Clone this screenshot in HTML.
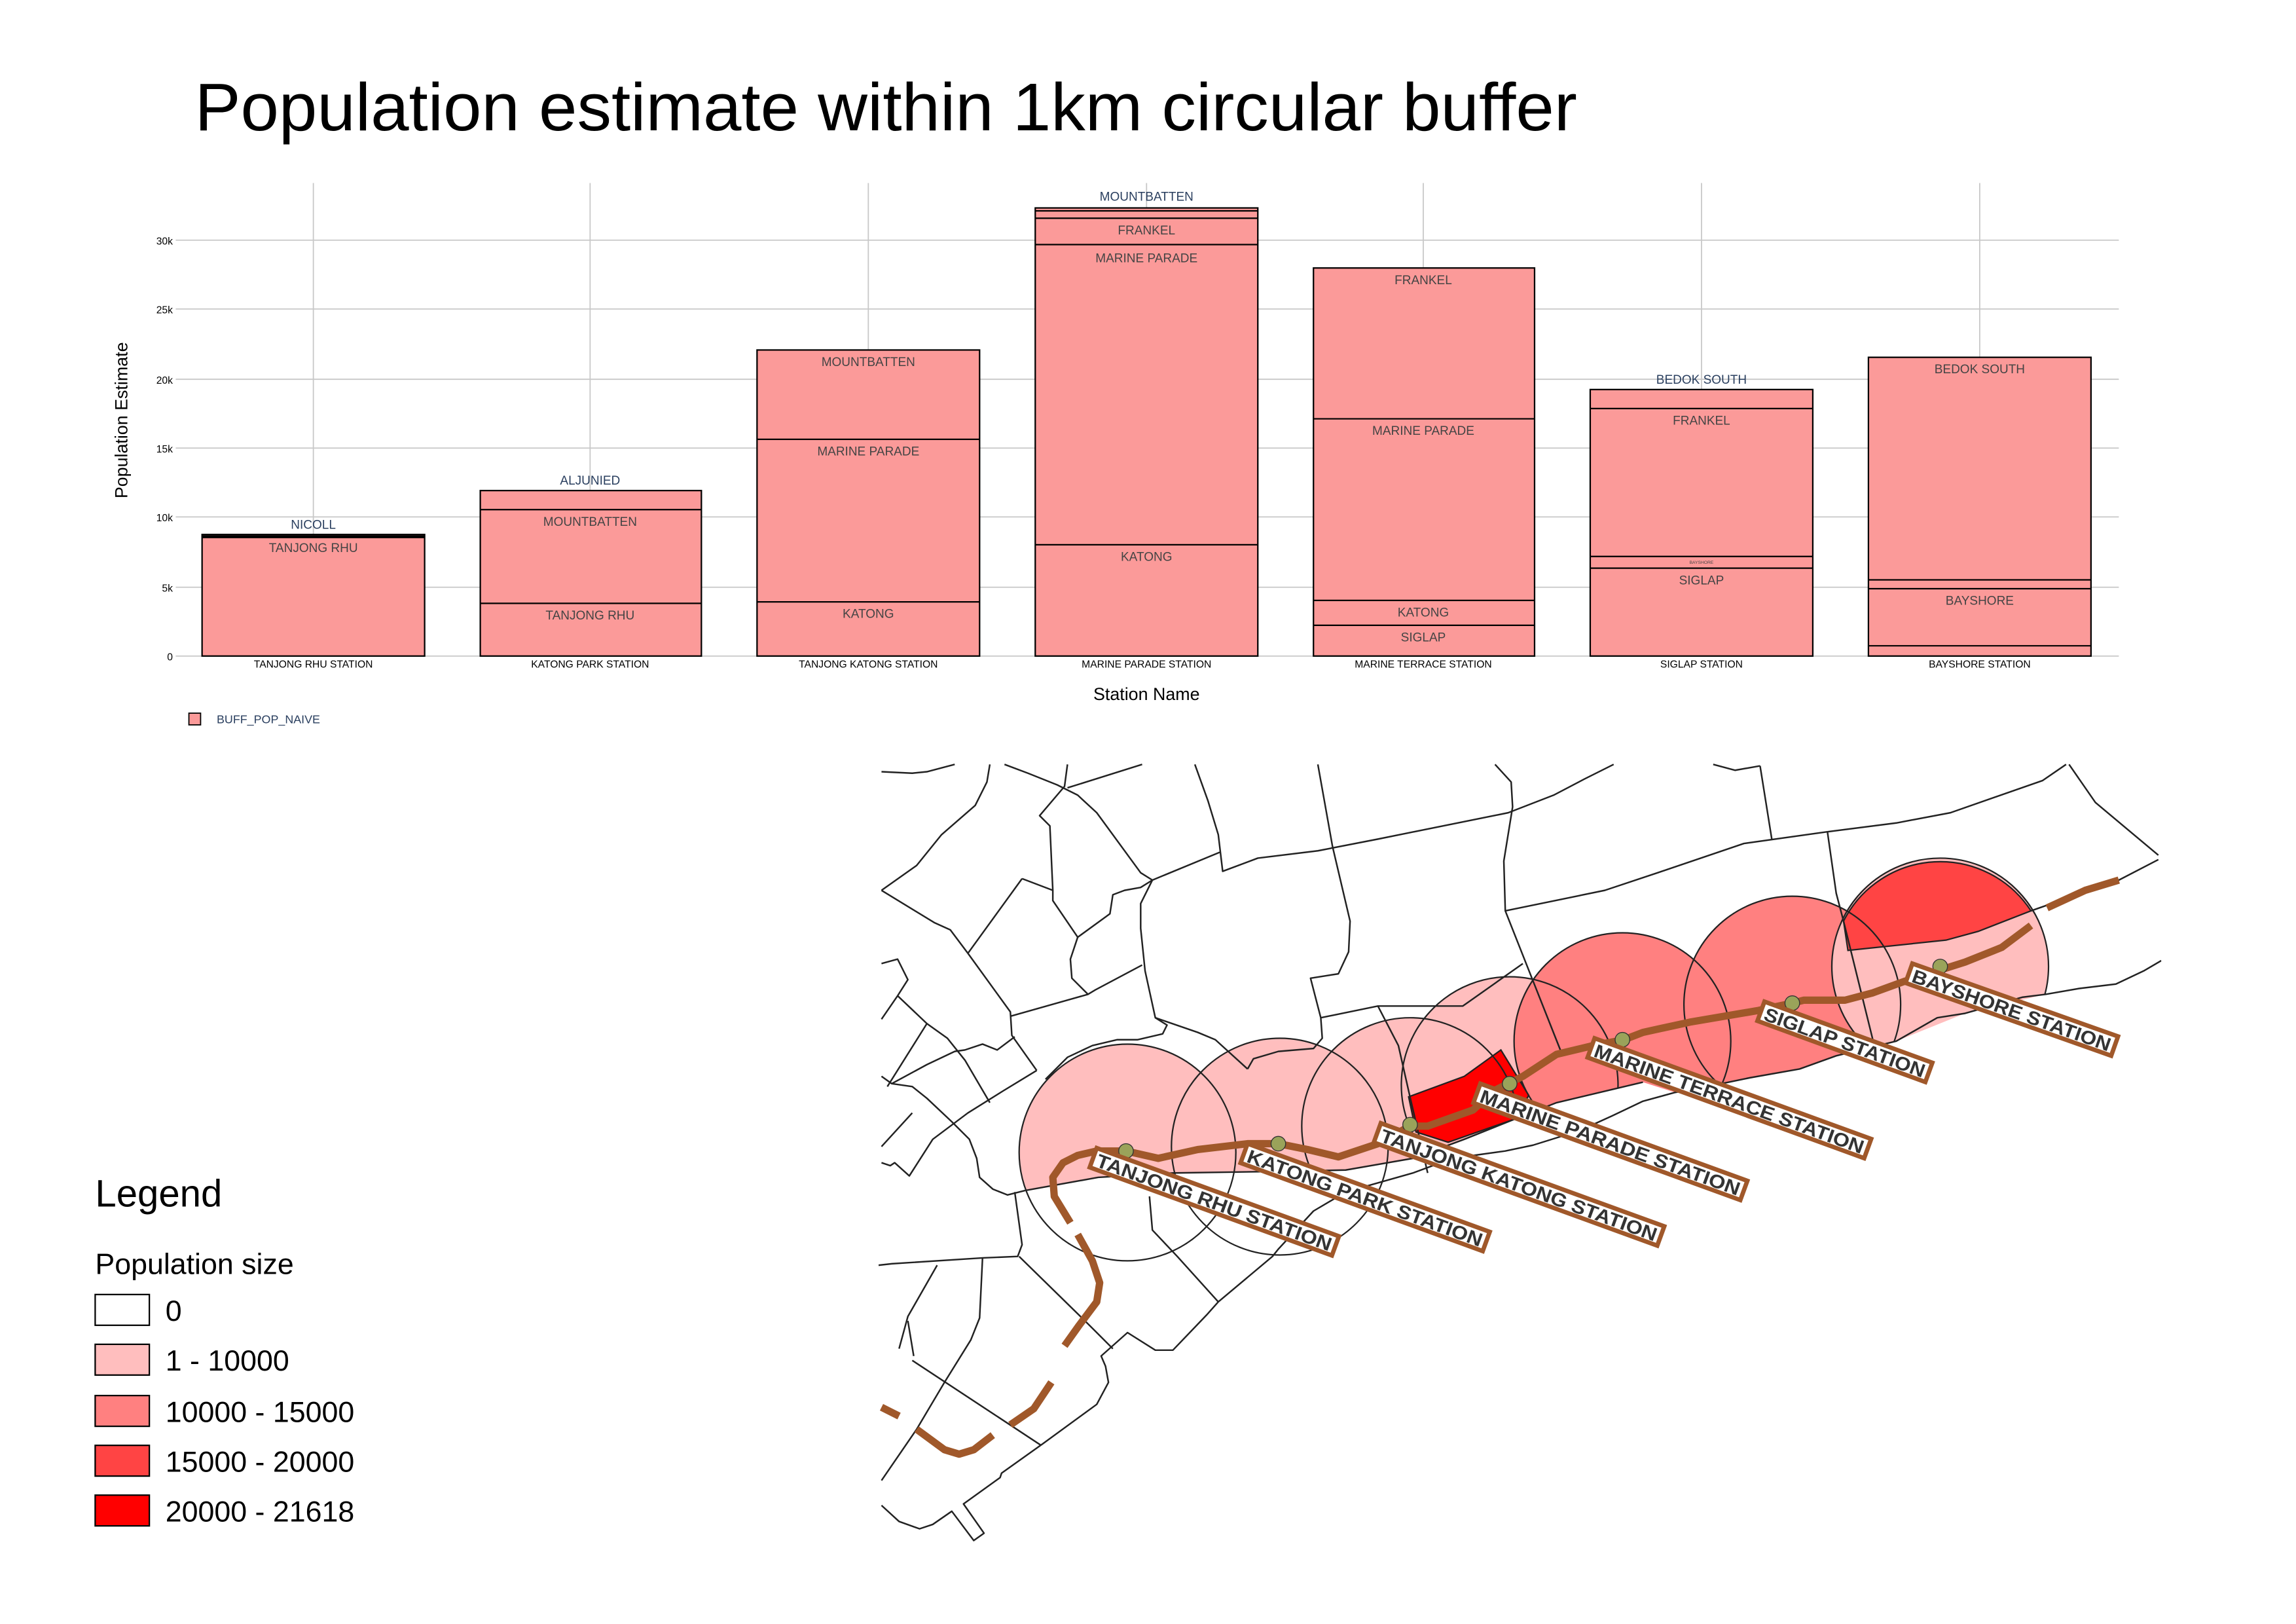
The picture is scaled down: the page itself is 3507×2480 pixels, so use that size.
<!DOCTYPE html>
<html><head><meta charset="utf-8"><style>
html,body{margin:0;padding:0;background:#fff}
svg{display:block}
</style></head><body>
<svg width="3507" height="2480" viewBox="0 0 1568 1109" preserveAspectRatio="none" xmlns="http://www.w3.org/2000/svg" font-family="Liberation Sans, sans-serif">
<rect width="1568" height="1109" fill="#fff"/>
<text x="133" y="89" font-size="46" fill="#000" textLength="944" lengthAdjust="spacingAndGlyphs">Population estimate within 1km circular buffer</text>

<!-- grid -->
<g stroke="#c8c8c8" stroke-width="0.8">
<line x1="120" y1="448" x2="1447" y2="448"/>
<line x1="120" y1="401" x2="1447" y2="401"/>
<line x1="120" y1="353" x2="1447" y2="353"/>
<line x1="120" y1="306" x2="1447" y2="306"/>
<line x1="120" y1="259" x2="1447" y2="259"/>
<line x1="120" y1="211" x2="1447" y2="211"/>
<line x1="120" y1="164" x2="1447" y2="164"/>
<line x1="214" y1="125" x2="214" y2="448"/>
<line x1="403" y1="125" x2="403" y2="448"/>
<line x1="593" y1="125" x2="593" y2="448"/>
<line x1="783" y1="125" x2="783" y2="448"/>
<line x1="972" y1="125" x2="972" y2="448"/>
<line x1="1162" y1="125" x2="1162" y2="448"/>
<line x1="1352" y1="125" x2="1352" y2="448"/>
</g>
<g font-size="7" fill="#000" text-anchor="end">
<text x="118" y="451">0</text><text x="118" y="404">5k</text><text x="118" y="356">10k</text>
<text x="118" y="309">15k</text><text x="118" y="262">20k</text><text x="118" y="214">25k</text><text x="118" y="167">30k</text>
</g>
<text transform="translate(87,287) rotate(-90)" font-size="12" text-anchor="middle">Population Estimate</text>
<text x="783" y="478" font-size="12" text-anchor="middle">Station Name</text>

<!-- bars -->
<g fill="#fb9a99" stroke="#000" stroke-width="1">
<rect x="138" y="365" width="152" height="83"/>
<rect x="328" y="335" width="151" height="113"/>
<rect x="517" y="239" width="152" height="209"/>
<rect x="707" y="142" width="152" height="306"/>
<rect x="897" y="183" width="151" height="265"/>
<rect x="1086" y="266" width="152" height="182"/>
<rect x="1276" y="244" width="152" height="204"/>
</g>
<g stroke="#000" stroke-width="1">
<line x1="138" y1="366.5" x2="290" y2="366.5" stroke-width="2"/>
<line x1="328" y1="348" x2="479" y2="348"/><line x1="328" y1="412" x2="479" y2="412"/>
<line x1="517" y1="300" x2="669" y2="300"/><line x1="517" y1="411" x2="669" y2="411"/>
<line x1="707" y1="144" x2="859" y2="144"/><line x1="707" y1="149" x2="859" y2="149"/><line x1="707" y1="167" x2="859" y2="167"/><line x1="707" y1="372" x2="859" y2="372"/>
<line x1="897" y1="286" x2="1048" y2="286"/><line x1="897" y1="410" x2="1048" y2="410"/><line x1="897" y1="427" x2="1048" y2="427"/>
<line x1="1086" y1="279" x2="1238" y2="279"/><line x1="1086" y1="380" x2="1238" y2="380"/><line x1="1086" y1="388" x2="1238" y2="388"/>
<line x1="1276" y1="396" x2="1428" y2="396"/><line x1="1276" y1="402" x2="1428" y2="402"/><line x1="1276" y1="441" x2="1428" y2="441"/>
</g>
<g font-size="8.5" text-anchor="middle" fill="#2a3f5f">
<text x="214" y="361">NICOLL</text><text x="403" y="331">ALJUNIED</text><text x="783" y="137">MOUNTBATTEN</text><text x="1162" y="262">BEDOK SOUTH</text>
</g>
<g font-size="8.5" text-anchor="middle" fill="#444">
<text x="214" y="377">TANJONG RHU</text>
<text x="403" y="359">MOUNTBATTEN</text><text x="403" y="423">TANJONG RHU</text>
<text x="593" y="250">MOUNTBATTEN</text><text x="593" y="311">MARINE PARADE</text><text x="593" y="422">KATONG</text>
<text x="783" y="160">FRANKEL</text><text x="783" y="179">MARINE PARADE</text><text x="783" y="383">KATONG</text>
<text x="972" y="194">FRANKEL</text><text x="972" y="297">MARINE PARADE</text><text x="972" y="421">KATONG</text><text x="972" y="438">SIGLAP</text>
<text x="1162" y="290">FRANKEL</text><text x="1162" y="399">SIGLAP</text><text x="1162" y="385" font-size="3">BAYSHORE</text>
<text x="1352" y="255">BEDOK SOUTH</text><text x="1352" y="413">BAYSHORE</text>
</g>
<g font-size="7" text-anchor="middle">
<text x="214" y="456">TANJONG RHU STATION</text><text x="403" y="456">KATONG PARK STATION</text><text x="593" y="456">TANJONG KATONG STATION</text>
<text x="783" y="456">MARINE PARADE STATION</text><text x="972" y="456">MARINE TERRACE STATION</text><text x="1162" y="456">SIGLAP STATION</text><text x="1352" y="456">BAYSHORE STATION</text>
</g>
<rect x="129" y="487" width="8" height="8" fill="#fb9a99" stroke="#000" stroke-width="0.8"/>
<text x="148" y="494" font-size="8" fill="#2a3f5f">BUFF_POP_NAIVE</text>

<!-- MAP -->
<defs>
<clipPath id="land"><polygon points="600,520 1476,520 1476,656 1464,663 1445,672 1397,679 1342,692 1295,711 1254,721 1229,730 1195,736 1144,746 1122,739 1063,753 1035,764 1000,778 965,791 919,799 869,800 801,801 750,804 700,813 600,830"/></clipPath>
<clipPath id="mapc"><rect x="600" y="520" width="876" height="545"/></clipPath>
</defs>
<g clip-path="url(#land)" stroke="none">
<circle cx="770" cy="787" r="74" fill="#ffbebe"/>
<circle cx="874" cy="783" r="74" fill="#ffbebe"/>
<circle cx="963" cy="769" r="74" fill="#ffbebe"/>
<circle cx="1031" cy="741" r="74" fill="#ffbebe"/>
<circle cx="1108" cy="711" r="74" fill="#ff8080"/>
<circle cx="1224" cy="686" r="74" fill="#ff8080"/>
<circle cx="1325" cy="660" r="74" fill="#ffbebe"/>
</g>
<path d="M1262,649 L1329,642 L1351,636 L1387,622 A74,74 0 0 0 1259,629 Z" fill="#ff4444" stroke="#222" stroke-width="1"/>
<polygon points="962,749 1000,735 1025,717 1044,748 1035,764 989,780 967,773" fill="#ff0000" stroke="#222" stroke-width="1"/>
<g fill="none" stroke="#222" stroke-width="1">
<circle cx="770" cy="787" r="74"/><circle cx="874" cy="783" r="74"/><circle cx="963" cy="769" r="74" clip-path="url(#land)"/>
<circle cx="1031" cy="741" r="74" clip-path="url(#land)"/><circle cx="1108" cy="711" r="74" clip-path="url(#land)"/>
<circle cx="1224" cy="686" r="74" clip-path="url(#land)"/><circle cx="1325" cy="660" r="74" clip-path="url(#land)"/>
</g>
<g fill="none" stroke="#222" stroke-width="1.1" stroke-linejoin="round" clip-path="url(#mapc)">
<polyline points="602,527 623,528 633,527 652,522"/>
<polyline points="676,522 674,534 666,550 643,570 626,591 602,608"/>
<polyline points="602,608 638,630 649,635 661,651 690,691 691,707 708,731"/>
<polyline points="686,522 702,528 722,536 736,543 749,555 779,596 787,601"/>
<polyline points="729,522 727,537 710,557 717,564 719,608 719,615 736,640 758,624 760,611 768,608 779,606 787,601"/>
<polyline points="729,538 780,522"/>
<polyline points="698,600 719,608"/><polyline points="698,600 661,651"/>
<polyline points="736,640 731,655 732,668 743,679 748,676 780,659"/>
<polyline points="743,679 690,694"/>
<polyline points="787,601 779,617 779,634 782,663 789,695 818,705 830,710 852,730"/>
<polyline points="789,695 797,700 794,706 777,710 763,710 746,714 729,722 714,737"/>
<polyline points="816,522 825,547 832,570 835,595 859,586 900,581 941,573 1030,555 1061,543 1082,532 1102,522"/>
<polyline points="833,582 787,601"/>
<polyline points="900,522 910,578 922,629 921,650 914,665 895,668 902,695 903,709 897,716 873,718 856,723 852,730"/>
<polyline points="902,695 941,687 999,687 1040,658"/>
<polyline points="941,687 955,714 962,745 975,801"/>
<polyline points="1021,522 1032,534 1033,551 1027,588 1028,622 1047,670 1066,718"/>
<polyline points="1028,622 1096,608 1132,596 1191,576 1248,568 1295,562 1332,555 1395,533 1411,522"/>
<polyline points="1202,523 1210,573"/>
<polyline points="1248,568 1254,610 1259,629 1279,710"/>
<polyline points="1413,522 1431,548 1474,584"/>
<polyline points="1474,587 1447,601 1387,622"/>
<polyline points="1170,522 1185,526 1202,523"/>
<polyline points="602,658 613,655 620,669 613,680 602,696"/>
<polyline points="613,680 633,699 647,709 659,724 676,753"/>
<polyline points="633,699 606,742"/>
<polyline points="602,735 609,740 623,742 633,750 650,766 662,778 667,791 669,804 678,812 688,816 700,813"/>
<polyline points="609,740 633,727 652,718 659,717 671,713 681,717 693,708"/>
<polyline points="623,760 602,783"/>
<polyline points="602,794 608,796 611,794 621,803 637,778 661,760 685,745 708,731"/>
<polyline points="700,813 750,804 801,801 869,800 919,799 965,791 1000,778 1035,764 1063,753 1122,739"/>
<polyline points="693,814 698,850 695,858 671,859 609,863 600,864"/>
<polyline points="671,859 669,900 663,915 645,944 626,976 602,1011"/>
<polyline points="640,864 620,899 614,921"/>
<polyline points="696,858 743,904 760,921"/>
<polyline points="623,929 711,987"/><polyline points="620,902 624,926"/>
<polyline points="785,817 787,840 804,858 832,889"/>
<polyline points="602,1028 614,1039 628,1044 637,1041 650,1032 665,1052 672,1047 658,1027 683,1009 684,1006 712,986 749,959 757,944 755,933 752,926 770,910 789,922 801,922 824,898 832,889 869,858 873,853 897,827 919,814 965,801 992,791 1028,786 1047,782 1079,772 1101,762 1122,752 1144,746 1166,742 1195,736 1229,730 1254,721 1295,711 1323,695 1342,692 1381,681 1397,679 1420,675 1445,672 1464,663 1476,656"/>
</g>
<!-- rail -->
<g fill="none" stroke="#a0582a" stroke-width="5" stroke-linecap="butt" stroke-linejoin="round">
<polyline points="731,835 720,817 719,804 726,794 736,789 749,786 769,786 791,791 818,785 852,781 873,781 893,785 914,790 941,781 963,769 975,769 1006,758 1020,745 1040,735 1063,720 1088,714 1109,710 1122,705 1154,698 1201,690 1224,685 1232,683 1260,683 1279,678 1301,670 1342,657 1367,647 1387,632"/>
<polyline points="1398,620 1424,608 1447,601"/>
<polyline points="736,843 746,861 751,876 749,889 737,905 727,919"/>
<polyline points="718,944 706,962 690,973"/>
<polyline points="678,980 665,990 655,993 645,990 626,976"/>
<polyline points="614,967 602,961"/>
</g>
<g fill="#9aa35a" stroke="#333" stroke-width="0.6">
<circle cx="769" cy="786" r="5"/><circle cx="873" cy="781" r="5"/><circle cx="963" cy="768" r="5"/><circle cx="1031" cy="740" r="5"/>
<circle cx="1108" cy="710" r="5"/><circle cx="1224" cy="685" r="5"/><circle cx="1325" cy="660" r="5"/>
</g>
<!-- labels -->
<g font-size="13" font-weight="bold" fill="#333">
<g transform="translate(749,784) rotate(20)"><rect x="0" y="0" width="176" height="14" fill="#fff" stroke="#a0582a" stroke-width="3"/><text x="3" y="12" textLength="170" lengthAdjust="spacingAndGlyphs">TANJONG RHU STATION</text></g>
<g transform="translate(852,781) rotate(20)"><rect x="0" y="0" width="176" height="14" fill="#fff" stroke="#a0582a" stroke-width="3"/><text x="3" y="12" textLength="170" lengthAdjust="spacingAndGlyphs">KATONG PARK STATION</text></g>
<g transform="translate(943,767) rotate(20)"><rect x="0" y="0" width="206" height="14" fill="#fff" stroke="#a0582a" stroke-width="3"/><text x="3" y="12" textLength="200" lengthAdjust="spacingAndGlyphs">TANJONG KATONG STATION</text></g>
<g transform="translate(1011,740) rotate(20)"><rect x="0" y="0" width="194" height="14" fill="#fff" stroke="#a0582a" stroke-width="3"/><text x="3" y="12" textLength="188" lengthAdjust="spacingAndGlyphs">MARINE PARADE STATION</text></g>
<g transform="translate(1089,709) rotate(20)"><rect x="0" y="0" width="201" height="14" fill="#fff" stroke="#a0582a" stroke-width="3"/><text x="3" y="12" textLength="195" lengthAdjust="spacingAndGlyphs">MARINE TERRACE STATION</text></g>
<g transform="translate(1205,684) rotate(20)"><rect x="0" y="0" width="122" height="14" fill="#fff" stroke="#a0582a" stroke-width="3"/><text x="3" y="12" textLength="116" lengthAdjust="spacingAndGlyphs">SIGLAP STATION</text></g>
<g transform="translate(1306,658) rotate(19.5)"><rect x="0" y="0" width="149" height="14" fill="#fff" stroke="#a0582a" stroke-width="3"/><text x="3" y="12" textLength="143" lengthAdjust="spacingAndGlyphs">BAYSHORE STATION</text></g>
</g>

<!-- legend -->
<text x="65" y="824" font-size="26">Legend</text>
<text x="65" y="870" font-size="20">Population size</text>
<g stroke="#000" stroke-width="1">
<rect x="65" y="884" width="37" height="21" fill="#fff"/>
<rect x="65" y="918" width="37" height="21" fill="#ffbebe"/>
<rect x="65" y="953" width="37" height="21" fill="#ff8080"/>
<rect x="65" y="987" width="37" height="21" fill="#ff4444"/>
<rect x="65" y="1021" width="37" height="21" fill="#ff0000"/>
</g>
<g font-size="20">
<text x="113" y="902">0</text>
<text x="113" y="936">1 - 10000</text>
<text x="113" y="971">10000 - 15000</text>
<text x="113" y="1005">15000 - 20000</text>
<text x="113" y="1039">20000 - 21618</text>
</g>
</svg>
</body></html>
